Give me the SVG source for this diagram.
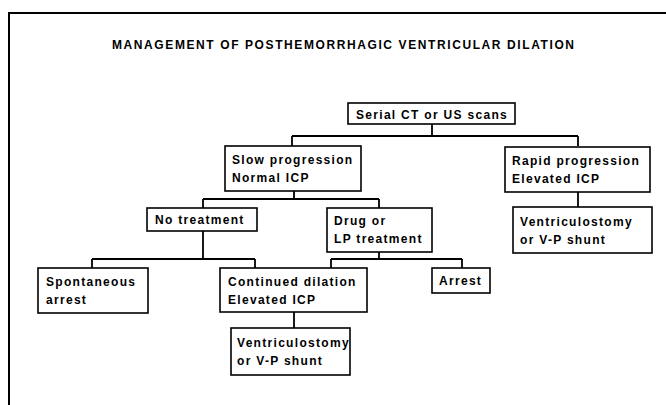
<svg xmlns="http://www.w3.org/2000/svg" width="666" height="405" viewBox="0 0 666 405">
<style>
.frame{fill:none;stroke:#000;stroke-width:2}
.box{fill:#fff;stroke:#000;stroke-width:1.6}
.con{fill:none;stroke:#000;stroke-width:1.8}
.t{font-family:"Liberation Sans",Arial,sans-serif;font-weight:bold;font-size:12px;letter-spacing:1.3px;fill:#000}
.title{font-family:"Liberation Sans",Arial,sans-serif;font-weight:bold;font-size:12px;fill:#000}
</style>
<rect width="666" height="405" fill="#fff"/>
<path class="frame" d="M9,405 V13 H666"/>
<text class="title" x="112" y="49" textLength="462" lengthAdjust="spacing">MANAGEMENT OF POSTHEMORRHAGIC VENTRICULAR DILATION</text>
<g id="connectors">
<path class="con" d="M432,124 V136 M292,136 H578 M292,136 V146 M578,136 V146"/>
<path class="con" d="M294,191 V199 M203,199 H379 M203,199 V208 M379,199 V208"/>
<path class="con" d="M578,192 V207"/>
<path class="con" d="M203,231 V259 M92,259 H255 M92,259 V268 M255,259 V268"/>
<path class="con" d="M379,252 V259 M331,259 H462 M331,259 V268 M462,259 V268"/>
<path class="con" d="M294,312 V328"/>
</g>
<g id="n-serial"><rect class="box" x="348" y="103" width="167" height="21"/><text class="t" x="356" y="119">Serial CT or US scans</text></g>
<g id="n-slow"><rect class="box" x="225" y="146" width="136" height="45"/><text class="t" x="232" y="164">Slow progression</text><text class="t" x="232" y="182">Normal ICP</text></g>
<g id="n-rapid"><rect class="box" x="505" y="147" width="145" height="45"/><text class="t" x="512" y="165">Rapid progression</text><text class="t" x="512" y="183">Elevated ICP</text></g>
<g id="n-notreat"><rect class="box" x="147" y="208" width="110" height="23"/><text class="t" x="155" y="224">No treatment</text></g>
<g id="n-drug"><rect class="box" x="327" y="208" width="105" height="44"/><text class="t" x="334" y="225">Drug or</text><text class="t" x="334" y="243">LP treatment</text></g>
<g id="n-vp1"><rect class="box" x="513" y="207" width="139" height="46"/><text class="t" x="520" y="226">Ventriculostomy</text><text class="t" x="520" y="244">or V-P shunt</text></g>
<g id="n-spont"><rect class="box" x="38" y="268" width="110" height="45"/><text class="t" x="46" y="286">Spontaneous</text><text class="t" x="46" y="304">arrest</text></g>
<g id="n-cont"><rect class="box" x="220" y="268" width="147" height="44"/><text class="t" x="228" y="286">Continued dilation</text><text class="t" x="228" y="304">Elevated ICP</text></g>
<g id="n-arrest"><rect class="box" x="432" y="268" width="58" height="25"/><text class="t" x="439" y="285">Arrest</text></g>
<g id="n-vp2"><rect class="box" x="231" y="328" width="119" height="47"/><text class="t" x="237" y="347">Ventriculostomy</text><text class="t" x="237" y="365">or V-P shunt</text></g>
</svg>
